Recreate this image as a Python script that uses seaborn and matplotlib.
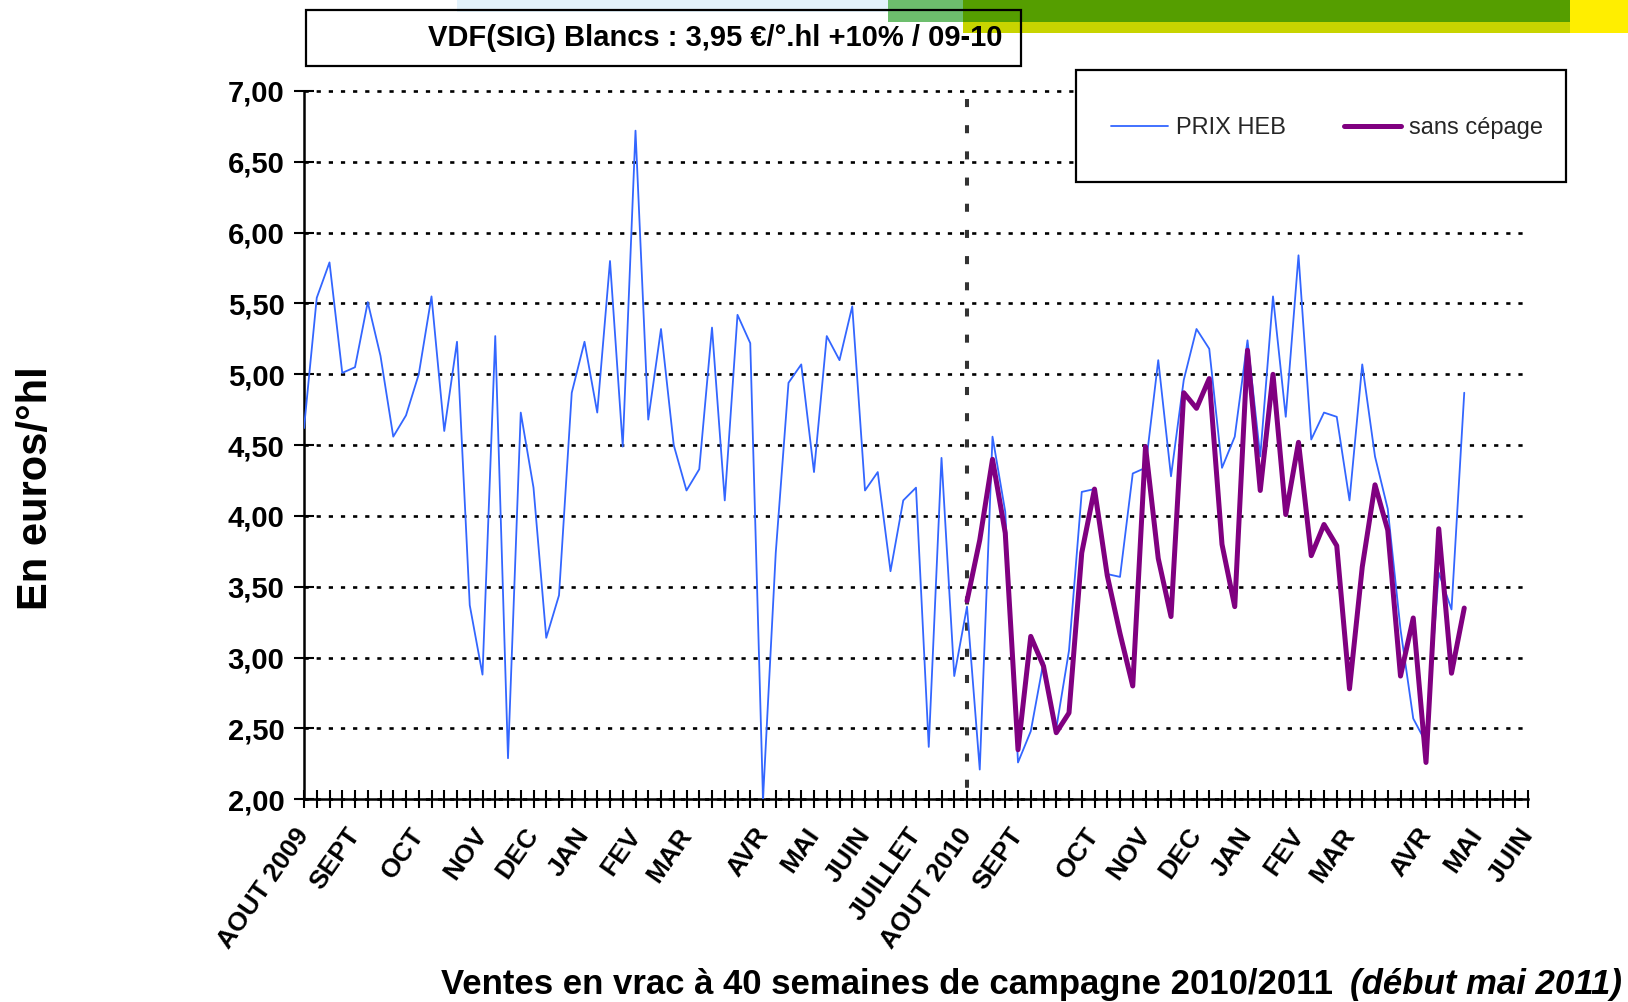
import matplotlib
matplotlib.use("Agg")
import matplotlib.pyplot as plt
from matplotlib.patches import Rectangle
from matplotlib.ticker import FuncFormatter, MultipleLocator
import pandas as pd
import seaborn as sns

# Weekly bulk price (euros/°hl), week 0 = early August 2009
PRIX_HEB = [
    4.62, 5.54, 5.79, 5.01, 5.05, 5.51, 5.13, 4.56, 4.71, 5.00,
    5.55, 4.60, 5.23, 3.37, 2.88, 5.27, 2.29, 4.73, 4.20, 3.14,
    3.44, 4.87, 5.23, 4.73, 5.80, 4.49, 6.72, 4.68, 5.32, 4.50,
    4.18, 4.33, 5.33, 4.11, 5.42, 5.22, 2.00, 3.74, 4.94, 5.07,
    4.31, 5.27, 5.10, 5.48, 4.18, 4.31, 3.61, 4.11, 4.20, 2.37,
    4.41, 2.87, 3.36, 2.21, 4.56, 4.03, 2.26, 2.48, 2.97, 2.50,
    3.05, 4.17, 4.19, 3.59, 3.57, 4.30, 4.34, 5.10, 4.28, 4.96,
    5.32, 5.18, 4.34, 4.56, 5.24, 4.42, 5.55, 4.70, 5.84, 4.54,
    4.73, 4.70, 4.11, 5.07, 4.42, 4.05, 3.20, 2.57, 2.40, 3.60,
    3.34, 4.87,
]

# "sans cépage" series starts with campaign 2010/2011 (week 52)
CAMPAIGN_START = 52
SANS_CEPAGE = [
    3.40, 3.83, 4.40, 3.88, 2.35, 3.15, 2.94, 2.47, 2.61, 3.74,
    4.19, 3.58, 3.17, 2.80, 4.49, 3.70, 3.29, 4.87, 4.76, 4.97,
    3.80, 3.36, 5.17, 4.18, 5.00, 4.01, 4.52, 3.72, 3.94, 3.79,
    2.78, 3.64, 4.22, 3.90, 2.87, 3.28, 2.26, 3.91, 2.89, 3.35,
]

N_WEEKS = 97
MONTH_NAMES = ["AOUT 2009", "SEPT", "OCT", "NOV", "DEC", "JAN", "FEV", "MAR",
               "AVR", "MAI", "JUIN", "JUILLET",
               "AOUT 2010", "SEPT", "OCT", "NOV", "DEC", "JAN", "FEV", "MAR",
               "AVR", "MAI", "JUIN"]
MONTH_WEEKS = [0, 4, 9, 14, 18, 22, 26, 30, 36, 40, 44, 48,
               52, 56, 62, 66, 70, 74, 78, 82, 88, 92, 96]

BLUE = "#3366FF"
PURPLE = "#800080"

W, H = 1628, 1002

sns.set_theme(style="white")
plt.rcParams["font.family"] = ["Liberation Sans", "DejaVu Sans"]

df_heb = pd.DataFrame({"semaine": range(len(PRIX_HEB)), "prix": PRIX_HEB})
df_sc = pd.DataFrame({"semaine": range(CAMPAIGN_START, CAMPAIGN_START + len(SANS_CEPAGE)),
                      "prix": SANS_CEPAGE})

fig = plt.figure(figsize=(W / 100, H / 100), dpi=100)
fig.patch.set_facecolor("white")
ax = fig.add_axes([304 / W, 1 - 799.3 / H, 1224 / W, 708.3 / H])
ax.set_facecolor("white")

sns.lineplot(data=df_heb, x="semaine", y="prix", color=BLUE, linewidth=1.3,
             label="PRIX HEB", ax=ax, zorder=4)
sns.lineplot(data=df_sc, x="semaine", y="prix", color=PURPLE, linewidth=3.6,
             label="sans cépage", ax=ax, zorder=5)
handles, labels = ax.get_legend_handles_labels()
if ax.get_legend() is not None:
    ax.get_legend().remove()

ax.set_xlim(0, N_WEEKS - 1)
ax.set_ylim(2, 7)
ax.set_xlabel("")
ax.set_ylabel("")

# campaign separator, dash pattern starting from the top
ax.axvline(CAMPAIGN_START, ymin=0.988, ymax=0.0, color="#333333", linewidth=2.9,
           dashes=(2.0, 4.5), zorder=3)

# y axis
ax.yaxis.set_major_locator(MultipleLocator(0.5))
ax.yaxis.set_major_formatter(FuncFormatter(lambda v, p: f"{v:.2f}".replace(".", ",")))
ax.yaxis.grid(True, color="black", linewidth=1.9, linestyle=(0, (1.6, 3.0)))
for gl in ax.get_ygridlines():
    gl.set_clip_on(False)
ax.xaxis.grid(False)
ax.tick_params(axis="y", direction="inout", length=14, width=1.5, color="black",
               labelsize=21, pad=7, left=True)

# x axis: one tick per week, month labels on some
xlabels = [""] * N_WEEKS
for name, wk in zip(MONTH_NAMES, MONTH_WEEKS):
    xlabels[wk] = name
ax.set_xticks(range(N_WEEKS))
ax.set_xticklabels(xlabels, rotation=55, ha="right", va="center",
                   rotation_mode="anchor")
ax.tick_params(axis="x", direction="inout", length=13, width=1.5, color="black",
               labelsize=19, pad=16, bottom=True)
for lab in ax.get_xticklabels() + ax.get_yticklabels():
    lab.set_fontweight("bold")
    lab.set_color("black")

for side in ["top", "right"]:
    ax.spines[side].set_visible(False)
for side in ["left", "bottom"]:
    ax.spines[side].set_color("black")
    ax.spines[side].set_linewidth(1.8)

# slide decoration at the top
def frect(x0, y0, x1, y1, **kw):
    fig.patches.append(Rectangle((x0 / W, 1 - y1 / H), (x1 - x0) / W, (y1 - y0) / H,
                                 transform=fig.transFigure, figure=fig, **kw))

frect(457, 0, 888, 12, facecolor="#e3f2fb", edgecolor="none", zorder=1)
frect(888, 0, 963, 22, facecolor="#6dbe6d", edgecolor="none", zorder=1)
frect(963, 0, 1570, 22, facecolor="#559e00", edgecolor="none", zorder=1)
frect(963, 22, 1570, 33, facecolor="#c8d400", edgecolor="none", zorder=1)
frect(1570, 0, 1628, 33, facecolor="#ffee00", edgecolor="none", zorder=1)

# title box
frect(306, 10, 1021, 66, facecolor="none", edgecolor="black", linewidth=1.6, zorder=2)
fig.text(1002 / W, 1 - 38 / H, "VDF(SIG) Blancs : 3,95 €/°.hl +10% / 09-10",
         ha="right", va="center", fontsize=21, fontweight="bold", color="black")

# legend box
frect(1076, 70, 1566, 182, facecolor="white", edgecolor="black", linewidth=1.6, zorder=2)
fig.legend(handles, labels, loc="center", bbox_to_anchor=(1327 / W, 1 - 128 / H),
           ncol=2, frameon=False, fontsize=17, handlelength=2.4, handletextpad=0.35,
           columnspacing=2.45)

# axis titles
fig.text(36 / W, 1 - 488 / H, "En euros/°hl", rotation=90, ha="center", va="center",
         fontsize=30, fontweight="bold", color="black")
fig.text(441 / W, 1 - 994 / H, "Ventes en vrac à 40 semaines de campagne 2010/2011",
         ha="left", va="baseline", fontsize=25, fontweight="bold", color="black")
fig.text(1622 / W, 1 - 994 / H, "(début mai 2011)", ha="right", va="baseline",
         fontsize=25, fontweight="bold", fontstyle="italic", color="black")

fig.savefig("out.png", dpi=100)
